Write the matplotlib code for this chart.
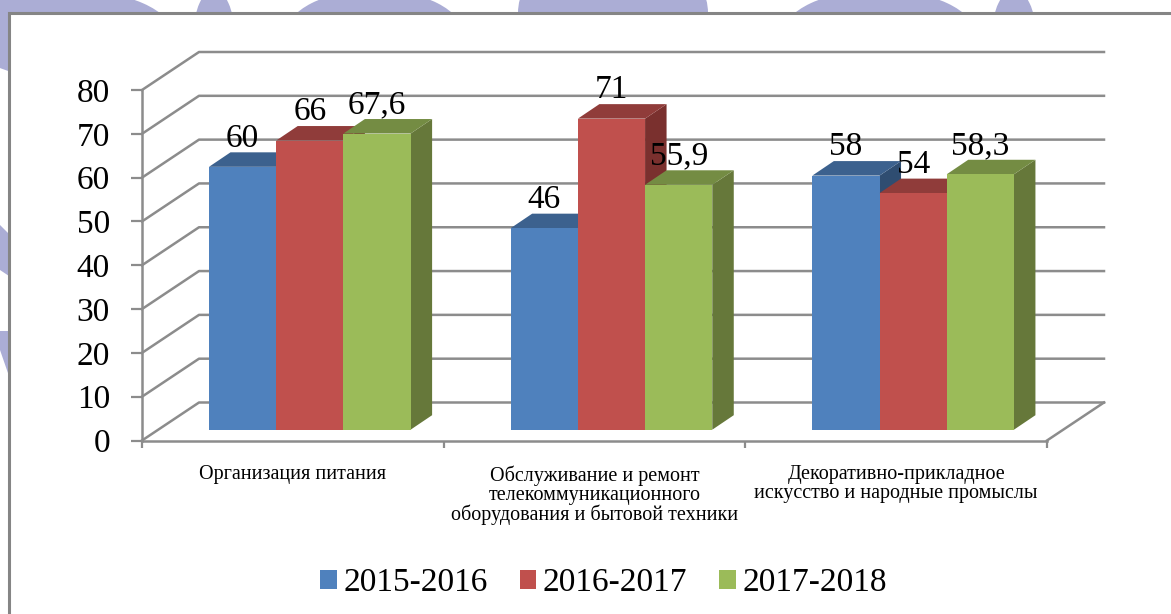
import matplotlib
matplotlib.use("Agg")
import matplotlib.pyplot as plt
from matplotlib.patches import Ellipse, Polygon, Rectangle, Patch
from matplotlib.transforms import Affine2D

# ── Data ─────────────────────────────────────────────────────────────────────
categories = [
    "Организация питания",
    "Обслуживание и ремонт\nтелекоммуникационного\nоборудования и бытовой техники",
    "Декоративно-прикладное\nискусство и народные промыслы",
]
years = ["2015-2016", "2016-2017", "2017-2018"]
values = [
    [60, 46, 58],
    [66, 71, 54],
    [67.6, 55.9, 58.3],
]
value_labels = [
    ["60", "46", "58"],
    ["66", "71", "54"],
    ["67,6", "55,9", "58,3"],
]
y_ticks = [0, 10, 20, 30, 40, 50, 60, 70, 80]

front_colors = ["#4F81BD", "#C0504D", "#9BBB59"]
top_colors = ["#3C618E", "#903C3A", "#748C43"]
side_colors = ["#2F4D71", "#7A302E", "#66783A"]

# ── Layout in pixels of the 1171x614 picture ─────────────────────────────────
W, H = 1171, 614
AX_LEFT, AX_RIGHT = 142, 1047
AX_Y0, AX_Y80 = 440.5, 90
PX_X = (AX_RIGHT - AX_LEFT) / 3
PX_Y = (AX_Y0 - AX_Y80) / 80

WALL_DX = 57 / PX_X
WALL_DY = 38 / PX_Y
BAR_X0 = 67 / PX_X
BAR_W = 67.2 / PX_X
BAR_BASE = 10.8 / PX_Y
BAR_DX = 21.5 / PX_X
BAR_DY = 14.5 / PX_Y
LABEL_DY = 28.5 / PX_Y
GRID = "#8C8C8C"
BLOB = "#ABADD5"

plt.rcParams["font.family"] = ["Liberation Serif", "DejaVu Serif"]

fig = plt.figure(figsize=(W / 100, H / 100), dpi=100, facecolor="white")

# ── Page background: blobs behind the white frame ────────────────────────────
to_px = Affine2D().scale(1, -1).translate(0, H)
blobs = [
    (70, 35, 206, 90), (214, 35, 41, 90), (374.5, 35, 178, 90),
    (613, 13, 190, 140), (879, 35, 193, 90), (1014, 35, 44, 90),
    (-20, 0, 90, 130),
]
for cx, cy, w, h in blobs:
    fig.add_artist(Ellipse((cx, cy), w, h, color=BLOB, lw=0, transform=to_px, zorder=-2))
for pts in ([(0, 225), (9, 234), (9, 276), (0, 270)], [(0, 331), (9, 331), (9, 376), (0, 350)]):
    fig.add_artist(Polygon(pts, color=BLOB, lw=0, transform=to_px, zorder=-2))
fig.add_artist(Rectangle((9, 13), W + 20, H + 20, facecolor="white", edgecolor="#858585",
                         lw=2.2, transform=to_px, zorder=-1))

# ── Chart axes: the front plane of the 3D box ────────────────────────────────
ax = fig.add_axes([AX_LEFT / W, 1 - AX_Y0 / H, (AX_RIGHT - AX_LEFT) / W, (AX_Y0 - AX_Y80) / H])
ax.patch.set_alpha(0)
ax.set_xlim(0, 3)
ax.set_ylim(0, 80)
for name in ("top", "right"):
    ax.spines[name].set_visible(False)
for name in ("left", "bottom"):
    ax.spines[name].set_color(GRID)
    ax.spines[name].set_linewidth(1.8)

ax.set_yticks(y_ticks)
ax.tick_params(axis="y", length=8, width=1.6, color=GRID, labelsize=24, pad=15)
ax.set_xticks([0, 1, 2, 3], labels=[])
ax.tick_params(axis="x", which="major", length=5, width=1.6, color=GRID)
ax.set_xticks([0.5, 1.5, 2.5], labels=categories, minor=True)
ax.tick_params(axis="x", which="minor", length=0, labelsize=14.5, pad=18)
for label in ax.get_xticklabels(minor=True):
    label.set_linespacing(0.98)

# gridlines on the side and back walls
for v in y_ticks:
    ax.plot([0, WALL_DX, 3 + WALL_DX], [v, v + WALL_DY, v + WALL_DY],
            color=GRID, lw=1.8, clip_on=False, zorder=1)
ax.plot([3, 3 + WALL_DX], [0, WALL_DY], color=GRID, lw=1.8, clip_on=False, zorder=1)

# ── Bars: one front, top and side face each ──────────────────────────────────
z = 3
for s, series in enumerate(values):
    for c, v in enumerate(series):
        x0 = c + BAR_X0 + s * BAR_W
        x1 = x0 + BAR_W
        top = BAR_BASE + v
        ax.fill([x1, x1 + BAR_DX, x1 + BAR_DX, x1],
                [BAR_BASE, BAR_BASE + BAR_DY, top + BAR_DY, top],
                color=side_colors[s], lw=0, clip_on=False, zorder=z)
        ax.fill([x0, x1, x1 + BAR_DX, x0 + BAR_DX],
                [top, top, top + BAR_DY, top + BAR_DY],
                color=top_colors[s], lw=0, clip_on=False, zorder=z)
        ax.bar(x0, v, BAR_W, bottom=BAR_BASE, align="edge", color=front_colors[s],
               clip_on=False, zorder=z)
        ax.text(x0 + BAR_W / 2, top + LABEL_DY, value_labels[s][c], ha="center", va="center",
                fontsize=24, color="black", clip_on=False, zorder=20)
        z += 1

# ── Legend ───────────────────────────────────────────────────────────────────
handles = [Patch(facecolor=c, label=y) for c, y in zip(front_colors, years)]
fig.legend(handles=handles, loc="center", bbox_to_anchor=(603.5 / W, 1 - 583 / H), ncol=3,
           frameon=False, fontsize=24, handlelength=0.5, handleheight=0.5,
           handletextpad=0.2, columnspacing=0.95, borderpad=0, borderaxespad=0)

plt.savefig("out.png", dpi=100)
